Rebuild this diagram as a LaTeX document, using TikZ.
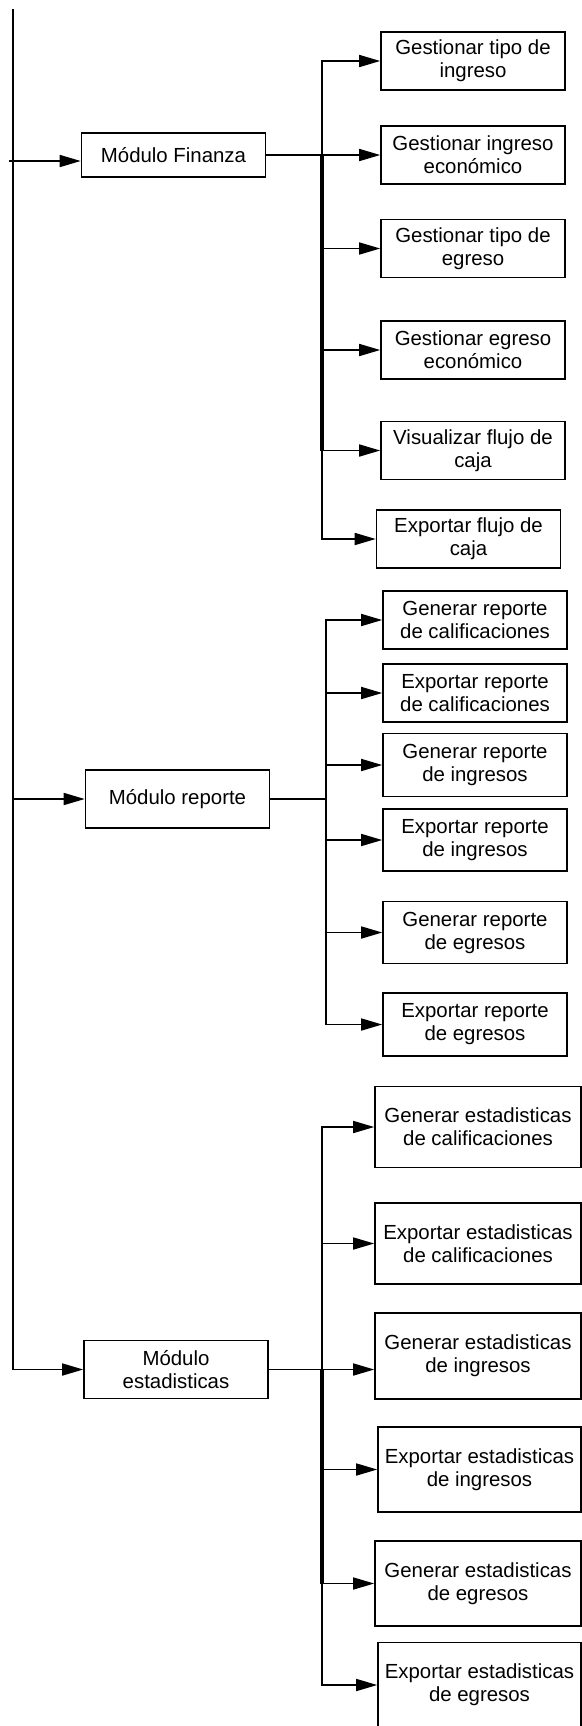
\documentclass[tikz,border=0pt]{standalone}
\usepackage{fontspec}
\setmainfont{Liberation Sans}
\usetikzlibrary{arrows.meta}

\begin{document}
\begin{tikzpicture}[x=0.5pt, y=-0.5pt, line width=0.8pt, every node/.style={font=\fontsize{10.2}{11.5}\selectfont}, >={Triangle[length=10.5pt, width=6pt]}, box/.style={draw, line width=0.8pt, align=center, inner sep=0pt, minimum width=92pt, minimum height=29pt}, wbox/.style={box, minimum width=103pt, minimum height=42.5pt}]
	\useasboundingbox (0,0) rectangle (582,1726);
	% modulos
	\node[box, minimum height=22pt] (fin) at (173.5,155) {Módulo Finanza};
	\node[box] (rep) at (177.5,799) {Módulo reporte};
	\node[box] (est) at (176,1369.5) {Módulo\\estadisticas};
	% finanza
	\node[box] (f1) at (473,61) {Gestionar tipo de\\ingreso};
	\node[box] (f2) at (473,155) {Gestionar ingreso\\económico};
	\node[box] (f3) at (473,248.5) {Gestionar tipo de\\egreso};
	\node[box] (f4) at (473,350) {Gestionar egreso\\económico};
	\node[box] (f5) at (473,450.5) {Visualizar flujo de\\caja};
	\node[box] (f6) at (468.5,539) {Exportar flujo de\\caja};
	% reporte
	\node[box] (r1) at (475,620) {Generar reporte\\de calificaciones};
	\node[box] (r2) at (475,693) {Exportar reporte\\de calificaciones};
	\node[box, minimum height=31.5pt] (r3) at (475,765) {Generar reporte\\de ingresos};
	\node[box, minimum height=31pt] (r4) at (475,840) {Exportar reporte\\de ingresos};
	\node[box, minimum height=31pt] (r5) at (475,932.5) {Generar reporte\\de egresos};
	\node[box, minimum height=31.5pt] (r6) at (475,1024.5) {Exportar reporte\\de egresos};
	% estadisticas
	\node[wbox, minimum height=40.5pt] (e1) at (478,1127) {Generar estadisticas\\de calificaciones};
	\node[wbox, minimum height=40.5pt] (e2) at (478,1243.5) {Exportar estadisticas\\de calificaciones};
	\node[wbox, minimum height=43pt] (e3) at (478,1356) {Generar estadisticas\\de ingresos};
	\node[wbox, minimum width=101.5pt] (e4) at (479.5,1469.5) {Exportar estadisticas\\de ingresos};
	\node[wbox] (e5) at (478,1583.5) {Generar estadisticas\\de egresos};
	\node[wbox, minimum width=101.5pt] (e6) at (479.5,1685) {Exportar estadisticas\\de egresos};
	% tronco
	\coordinate (top) at (13,9);
	\coordinate (fin in) at (9,161);
	\draw[->] (top) |- (est.west);
	\draw[->] (fin in) -- (fin in -| fin.west);
	\draw[->] (rep.west -| top) -- (rep.west);
	% ramas
	\coordinate (fb) at (322,155);
	\coordinate (rb) at (326,799);
	\coordinate (eb) at (322,1369.5);
	\draw (fin.east) -- (fb);
	\draw (rep.east) -- (rb);
	\draw (est.east) -- (eb);
	\foreach \n in {f1,f2,f3,f4,f5,f6} {\draw[->] (fb) |- (\n.west);}
	\foreach \n in {r1,r2,r3,r4,r5,r6} {\draw[->] (rb) |- (\n.west);}
	\foreach \n in {e1,e2,e4,e5,e6} {\draw[->] (eb) |- (\n.west);}
	\draw[->] (eb) -- (eb -| e3.west);
	\draw[line width=1.6pt] (fb) -- (fb |- f5.west);
	\draw[line width=1.6pt] (eb) -- (eb |- e5.west);
\end{tikzpicture}
\end{document}
